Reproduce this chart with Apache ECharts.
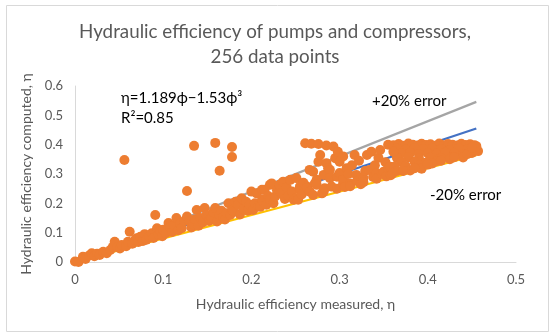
<!DOCTYPE html>
<html><head><meta charset="utf-8">
<script src="https://cdn.jsdelivr.net/npm/echarts@6/dist/echarts.min.js"></script>
<style>html,body{margin:0;padding:0;background:#fff}#c{width:550px;height:333px}</style>
</head><body><div id="c"></div>
<script>
// Scatter data: measured (x) and computed (y) hydraulic efficiency
const measured = [
0.000,0.004,0.009,0.012,0.016,0.019,0.022,0.025,0.028,0.032,0.036,0.040,0.043,0.045,0.048,0.051,0.053,0.056,0.058,0.060,0.062,0.065,0.068,0.070,0.072,0.074,0.077,0.079,0.081,0.084,0.087,0.089,0.091,0.093,0.095,0.097,0.099,
0.100,0.103,0.106,0.108,0.110,0.112,0.115,0.117,0.119,0.121,0.124,0.127,0.127,0.130,0.132,0.134,0.135,0.136,0.138,0.140,0.142,0.145,0.147,0.149,0.152,0.153,0.155,0.157,0.159,0.159,0.161,0.164,0.164,0.166,0.168,0.170,0.172,0.174,0.176,0.178,0.178,0.178,0.180,0.182,0.185,0.187,0.189,0.191,0.194,0.196,0.198,
0.200,0.202,0.204,0.206,0.208,0.210,0.212,0.212,0.213,0.215,0.217,0.219,0.221,0.221,0.223,0.225,0.227,0.229,0.232,0.232,0.234,0.236,0.238,0.240,0.242,0.244,0.246,0.248,0.251,0.251,0.253,0.255,0.255,0.257,0.259,0.261,0.263,0.263,0.266,0.266,0.268,0.270,0.270,0.272,0.274,0.274,0.276,0.276,0.278,0.280,0.282,0.282,0.283,0.285,0.285,0.287,0.289,0.289,0.291,0.293,0.295,0.297,0.297,0.298,0.300,0.300,
0.304,0.304,0.304,0.306,0.308,0.310,0.312,0.312,0.314,0.317,0.319,0.320,0.322,0.324,0.327,0.327,0.329,0.331,0.334,0.336,0.338,0.340,0.342,0.342,0.344,0.346,0.348,0.350,0.352,0.353,0.355,0.355,0.357,0.358,
0.361,0.367,0.372,0.378,0.383,0.388,0.393,0.398,0.403,0.408,0.413,0.418,0.423,0.428,0.433,0.438,0.443,0.448,0.453,
0.365,0.375,0.385,0.395,0.405,0.415,0.425,0.435,0.445,0.455,
0.370,0.380,0.390,0.400,0.410,0.420,0.430,0.440,0.450,
0.365,0.378,0.390,0.403,0.415,0.428,0.440,
0.370,0.385,0.398,0.410,0.425,
0.362,0.375,0.390,0.405,
0.365,0.380,0.393,
0.360,0.372,0.385,0.400,0.415,0.430,0.445,0.457,
0.361,0.455,0.450
];
const computed = [
0.002,0.000,0.018,0.010,0.022,0.030,0.020,0.028,0.024,0.035,0.030,0.041,0.052,0.069,0.050,0.046,0.058,0.348,0.054,0.069,0.103,0.062,0.075,0.081,0.068,0.086,0.072,0.095,0.076,0.088,0.098,0.082,0.160,0.115,0.092,0.105,0.088,
0.110,0.098,0.133,0.118,0.102,0.125,0.150,0.108,0.130,0.115,0.140,0.155,0.242,0.138,0.118,0.128,0.396,0.145,0.177,0.124,0.150,0.135,0.184,0.160,0.140,0.145,0.150,0.170,0.184,0.406,0.138,0.160,0.311,0.175,0.152,0.145,0.166,0.200,0.160,0.177,0.392,0.358,0.172,0.205,0.195,0.162,0.217,0.180,0.205,0.175,0.195,
0.240,0.177,0.200,0.234,0.190,0.188,0.212,0.246,0.206,0.246,0.195,0.225,0.263,0.212,0.268,0.200,0.223,0.245,0.240,0.263,0.234,0.274,0.215,0.255,0.225,0.280,0.240,0.212,0.286,0.217,0.212,0.257,0.246,0.230,0.270,0.405,0.257,0.252,0.314,0.240,0.403,0.308,0.228,0.268,0.280,0.263,0.402,0.342,0.365,0.234,0.297,0.240,0.251,0.397,0.337,0.320,0.314,0.286,0.257,0.394,0.354,0.291,0.250,0.376,0.342,0.303,
0.360,0.268,0.280,0.256,0.320,0.300,0.268,0.258,0.330,0.365,0.297,0.275,0.345,0.265,0.286,0.272,0.310,0.365,0.314,0.376,0.290,0.330,0.303,0.284,0.355,0.382,0.300,0.308,0.340,0.292,0.400,0.320,0.325,0.296,
0.398,0.402,0.396,0.404,0.400,0.397,0.403,0.399,0.401,0.396,0.404,0.398,0.402,0.400,0.397,0.403,0.399,0.401,0.398,
0.386,0.383,0.388,0.384,0.387,0.385,0.382,0.388,0.384,0.386,
0.370,0.372,0.368,0.371,0.369,0.373,0.370,0.367,0.372,
0.355,0.357,0.353,0.356,0.354,0.358,0.356,
0.340,0.342,0.338,0.344,0.350,
0.325,0.327,0.330,0.336,
0.310,0.312,0.318,
0.302,0.310,0.320,0.332,0.345,0.357,0.368,0.378,
0.376,0.395,0.390
];
// Reference lines: +20% error, perfect agreement, -20% error
const refX = [0, 0.455];
const plus20Y = [0, 0.546];
const equalY = [0, 0.455];
const minus20Y = [0, 0.364];
const xTicks = [0, 0.1, 0.2, 0.3, 0.4, 0.5];
const yTicks = [0, 0.1, 0.2, 0.3, 0.4, 0.5, 0.6];

const pts = measured.map((x, i) => [x, computed[i]]);
const mk = ys => refX.map((x, i) => [x, ys[i]]);
const font = 'Lato, "Liberation Sans", sans-serif';

const chart = echarts.init(document.getElementById('c'), null, {renderer: 'canvas'});
chart.setOption({
  animation: false,
  textStyle: {fontFamily: font},
  title: {
    text: 'Hydraulic efficiency of pumps and compressors,\n256 data points',
    left: 'center', top: 14,
    textStyle: {fontSize: 18.8, fontWeight: 'normal', color: '#595959', lineHeight: 25, fontFamily: font}
  },
  grid: {left: 75, right: 34, top: 86, bottom: 71},
  xAxis: {
    type: 'value', min: xTicks[0], max: xTicks[xTicks.length - 1], interval: 0.1,
    axisLine: {show: true, lineStyle: {color: '#D9D9D9', width: 1}},
    axisTick: {show: false}, splitLine: {show: false},
    axisLabel: {color: '#595959', fontSize: 13, margin: 11, fontFamily: font},
    name: 'Hydraulic efficiency measured, η', nameLocation: 'middle', nameGap: 35,
    nameTextStyle: {color: '#595959', fontSize: 14, fontFamily: font}
  },
  yAxis: {
    type: 'value', min: yTicks[0], max: yTicks[yTicks.length - 1], interval: 0.1,
    axisLine: {show: true, lineStyle: {color: '#D9D9D9', width: 1}},
    axisTick: {show: false}, splitLine: {show: false},
    axisLabel: {color: '#595959', fontSize: 13, margin: 12, fontFamily: font},
    name: 'Hydraulic efficiency computed, η', nameLocation: 'middle', nameGap: 35, nameRotate: 90,
    nameTextStyle: {color: '#595959', fontSize: 14, fontFamily: font}
  },
  series: [
    {type: 'line', data: mk(plus20Y), symbol: 'none', lineStyle: {color: '#A5A5A5', width: 2.25}, z: 1},
    {type: 'line', data: mk(equalY), symbol: 'none', lineStyle: {color: '#4472C4', width: 2.25}, z: 1},
    {type: 'line', data: mk(minus20Y), symbol: 'none', lineStyle: {color: '#FFC000', width: 2.25}, z: 1},
    {type: 'scatter', data: pts, symbol: 'circle', symbolSize: 10, itemStyle: {color: '#ED7D31', opacity: 1}, z: 2}
  ],
  graphic: [
    {type: 'rect', left: 4, top: 3, shape: {width: 542, height: 326}, style: {fill: 'none', stroke: '#D9D9D9', lineWidth: 1}, silent: true, z: -10},
    {type: 'text', left: 121, top: 91, style: {text: 'η=1.189ϕ−1.53ϕ³', fontSize: 15, fill: '#000', fontFamily: font}},
    {type: 'text', left: 121, top: 111, style: {text: 'R²=0.85', fontSize: 15, fill: '#000', fontFamily: font}},
    {type: 'text', left: 372, top: 94, style: {text: '+20% error', fontSize: 15, fill: '#000', fontFamily: font}},
    {type: 'text', left: 430, top: 188, style: {text: '-20% error', fontSize: 15, fill: '#000', fontFamily: font}}
  ]
});
</script></body></html>
